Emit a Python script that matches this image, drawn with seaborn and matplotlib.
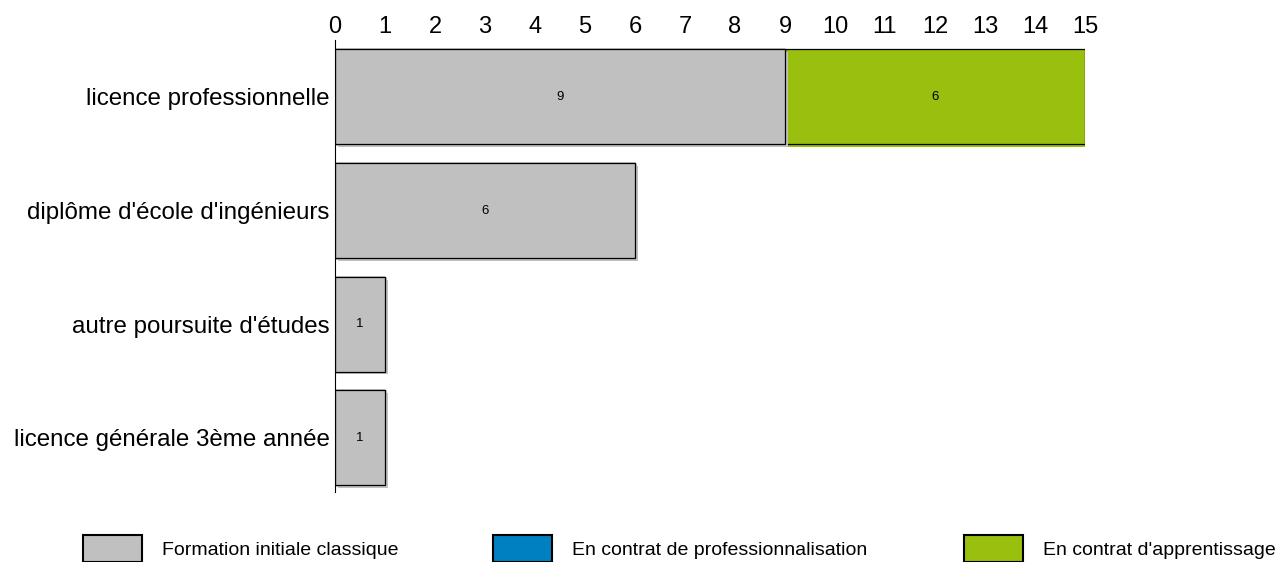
import matplotlib
matplotlib.use("Agg")
import matplotlib.pyplot as plt
import matplotlib.patheffects as pe
from matplotlib.patches import Patch
import numpy as np
import pandas as pd
import seaborn as sns

# données
categories = ["licence professionnelle", "diplôme d'école d'ingénieurs",
              "autre poursuite d'études", "licence générale 3ème année"]
series_names = ["Formation initiale classique", "En contrat de professionnalisation",
                "En contrat d'apprentissage"]
classique = [9, 6, 1, 1]
professionnalisation = [0, 0, 0, 0]
apprentissage = [6, 0, 0, 0]
ticks = list(range(0, 16))

colors = ["#C0C0C0", "#0080C0", "#99BF0F"]

sns.set_style("white")
plt.rcParams["font.family"] = ["Liberation Sans", "DejaVu Sans"]
plt.rcParams["text.color"] = "black"

values = np.array([classique, professionnalisation, apprentissage], dtype=float)
cumul = values.cumsum(axis=0)

fig = plt.figure(figsize=(12.79, 5.62), dpi=100)
ax = fig.add_axes([0.2619, 0.1246, 0.5864, 0.8043])

# barres empilées : on dessine les cumuls du dernier au premier
for i in reversed(range(3)):
    df = pd.DataFrame({"cat": categories, "val": cumul[i]})
    sns.barplot(data=df, x="val", y="cat", orient="h", color=colors[i],
                saturation=1, width=0.835, edgecolor="black", linewidth=0.9, ax=ax)
    for bar in ax.patches[-len(categories):]:
        bar.set_path_effects([pe.SimplePatchShadow(offset=(2, -2),
                                                   shadow_rgbFace=colors[i], alpha=1),
                              pe.Normal()])

# étiquettes de valeurs au centre de chaque segment
for i in range(3):
    start = cumul[i] - values[i]
    for j, v in enumerate(values[i]):
        if v > 0:
            ax.text(start[j] + v / 2, j, f"{int(v)}", ha="center", va="center",
                    fontsize=9.5, color="black")

ax.set_xlim(0, 15)
ax.set_ylim(3.475, -0.5)
ax.set_xticks(ticks)
ax.xaxis.tick_top()
ax.tick_params(axis="x", length=0, pad=1.5, labelsize=17, labelcolor="black")
ax.tick_params(axis="y", length=0, pad=4, labelsize=17.4, labelcolor="black")
ax.set_xlabel("")
ax.set_ylabel("")
for s in ["top", "right", "bottom"]:
    ax.spines[s].set_visible(False)
ax.spines["left"].set_color("black")
ax.spines["left"].set_linewidth(0.8)

# légende : trois entrées placées séparément
leg_x = [83, 493, 964]
for name, col, x in zip(series_names, colors, leg_x):
    h = Patch(facecolor=col, edgecolor="black", linewidth=1.5)
    fig.legend(handles=[h], labels=[name], loc="upper left",
               bbox_to_anchor=(x / 1279, 1 - 535 / 562), frameon=False,
               fontsize=14, handlelength=3.05, handleheight=1.75,
               handletextpad=1.0, borderpad=0, borderaxespad=0,
               labelcolor="black")

fig.savefig("out.png", dpi=100)
